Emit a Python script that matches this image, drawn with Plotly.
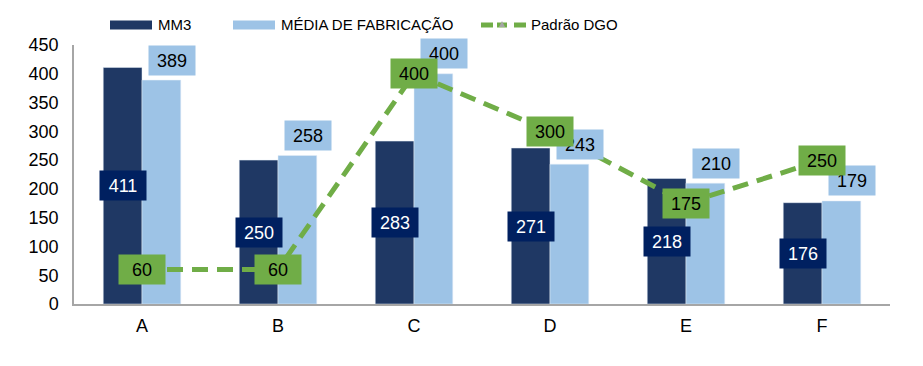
import plotly.graph_objects as go

categories = ["A", "B", "C", "D", "E", "F"]
mm3 = [411, 250, 283, 271, 218, 176]
media_fabricacao = [389, 258, 400, 243, 210, 179]
padrao_dgo = [60, 60, 400, 300, 175, 250]
series_names = ["MM3", "MÉDIA DE FABRICAÇÃO", "Padrão DGO"]

DARK = "#1F3864"
DARK_LABEL = "#002060"
LIGHT = "#9DC3E6"
GREEN = "#70AD47"
FONT = "Liberation Sans, Arial, sans-serif"

# plot area geometry (pixels)
L, R, T, B = 74, 33, 45, 62
W, H = 923, 366
PW, PH = W - L - R, H - T - B


def px_x(p):
    return (p - L) / PW


def px_y(p):
    return (H - B - p) / PH


fig = go.Figure()
fig.add_trace(go.Bar(x=categories, y=mm3, name=series_names[0], marker_color=DARK))
fig.add_trace(go.Bar(x=categories, y=media_fabricacao, name=series_names[1], marker_color=LIGHT))
fig.add_trace(go.Scatter(x=categories, y=padrao_dgo, mode="lines", name=series_names[2],
                         line=dict(color=GREEN, width=5, dash="16px,9px")))

annotations = []
for c, v in zip(categories, mm3):
    annotations.append(dict(x=c, y=v / 2, text=str(v), showarrow=False, xshift=-19,
                            bgcolor=DARK_LABEL, font=dict(color="white", size=18, family=FONT),
                            width=44, height=27))
for c, v in zip(categories, media_fabricacao):
    annotations.append(dict(x=c, y=v, text=str(v), showarrow=False, xshift=30, yshift=20,
                            bgcolor=LIGHT, font=dict(color="black", size=18, family=FONT),
                            width=44, height=27))
for c, v in zip(categories, padrao_dgo):
    annotations.append(dict(x=c, y=v, text=str(v), showarrow=False,
                            bgcolor=GREEN, font=dict(color="black", size=18, family=FONT),
                            width=44, height=27))

# manual legend
shapes = []
ly = 25
shapes.append(dict(type="rect", xref="paper", yref="paper", x0=px_x(110), x1=px_x(152),
                   y0=px_y(ly + 4.5), y1=px_y(ly - 4.5), fillcolor=DARK, line=dict(width=0)))
shapes.append(dict(type="rect", xref="paper", yref="paper", x0=px_x(233), x1=px_x(275),
                   y0=px_y(ly + 4.5), y1=px_y(ly - 4.5), fillcolor=LIGHT, line=dict(width=0)))
shapes.append(dict(type="line", xref="paper", yref="paper", x0=px_x(481), x1=px_x(493),
                   y0=px_y(ly), y1=px_y(ly), line=dict(color=GREEN, width=5)))
shapes.append(dict(type="line", xref="paper", yref="paper", x0=px_x(497), x1=px_x(507),
                   y0=px_y(ly), y1=px_y(ly), line=dict(color=GREEN, width=5)))
shapes.append(dict(type="path", xref="paper", yref="paper",
                   path=f"M{px_x(499)},{px_y(ly + 2)} L{px_x(502)},{px_y(ly - 4)} L{px_x(505)},{px_y(ly + 2)} Z",
                   fillcolor="#A5A5A5", line=dict(width=0)))
shapes.append(dict(type="line", xref="paper", yref="paper", x0=px_x(514), x1=px_x(526),
                   y0=px_y(ly), y1=px_y(ly), line=dict(color=GREEN, width=5)))
for name, xpos in zip(series_names, [156, 279, 529]):
    annotations.append(dict(xref="paper", yref="paper", x=px_x(xpos), y=px_y(ly),
                            xanchor="left", yanchor="middle", text=name, showarrow=False,
                            font=dict(size=15, family=FONT, color="black")))

fig.update_layout(
    width=W, height=H,
    margin=dict(l=L, r=R, t=T, b=B, autoexpand=False),
    showlegend=False,
    barmode="group", bargap=0.43, bargroupgap=0,
    plot_bgcolor="white", paper_bgcolor="white",
    font=dict(family=FONT, size=18, color="black"),
    annotations=annotations,
    shapes=shapes,
    xaxis=dict(showline=True, linecolor="#A6A6A6", linewidth=1.5, ticks="", showgrid=False,
               tickfont=dict(size=18), ticklabelstandoff=5),
    yaxis=dict(range=[0, 450], dtick=50, showline=True, linecolor="#A6A6A6", linewidth=1.5,
               showgrid=False, ticks="", tickfont=dict(size=18), zeroline=False,
               ticklabelstandoff=10),
)

fig.write_html("out.html",
               config={"displayModeBar": False},
               post_script="document.body.style.margin='0';document.body.style.overflow='hidden';")
